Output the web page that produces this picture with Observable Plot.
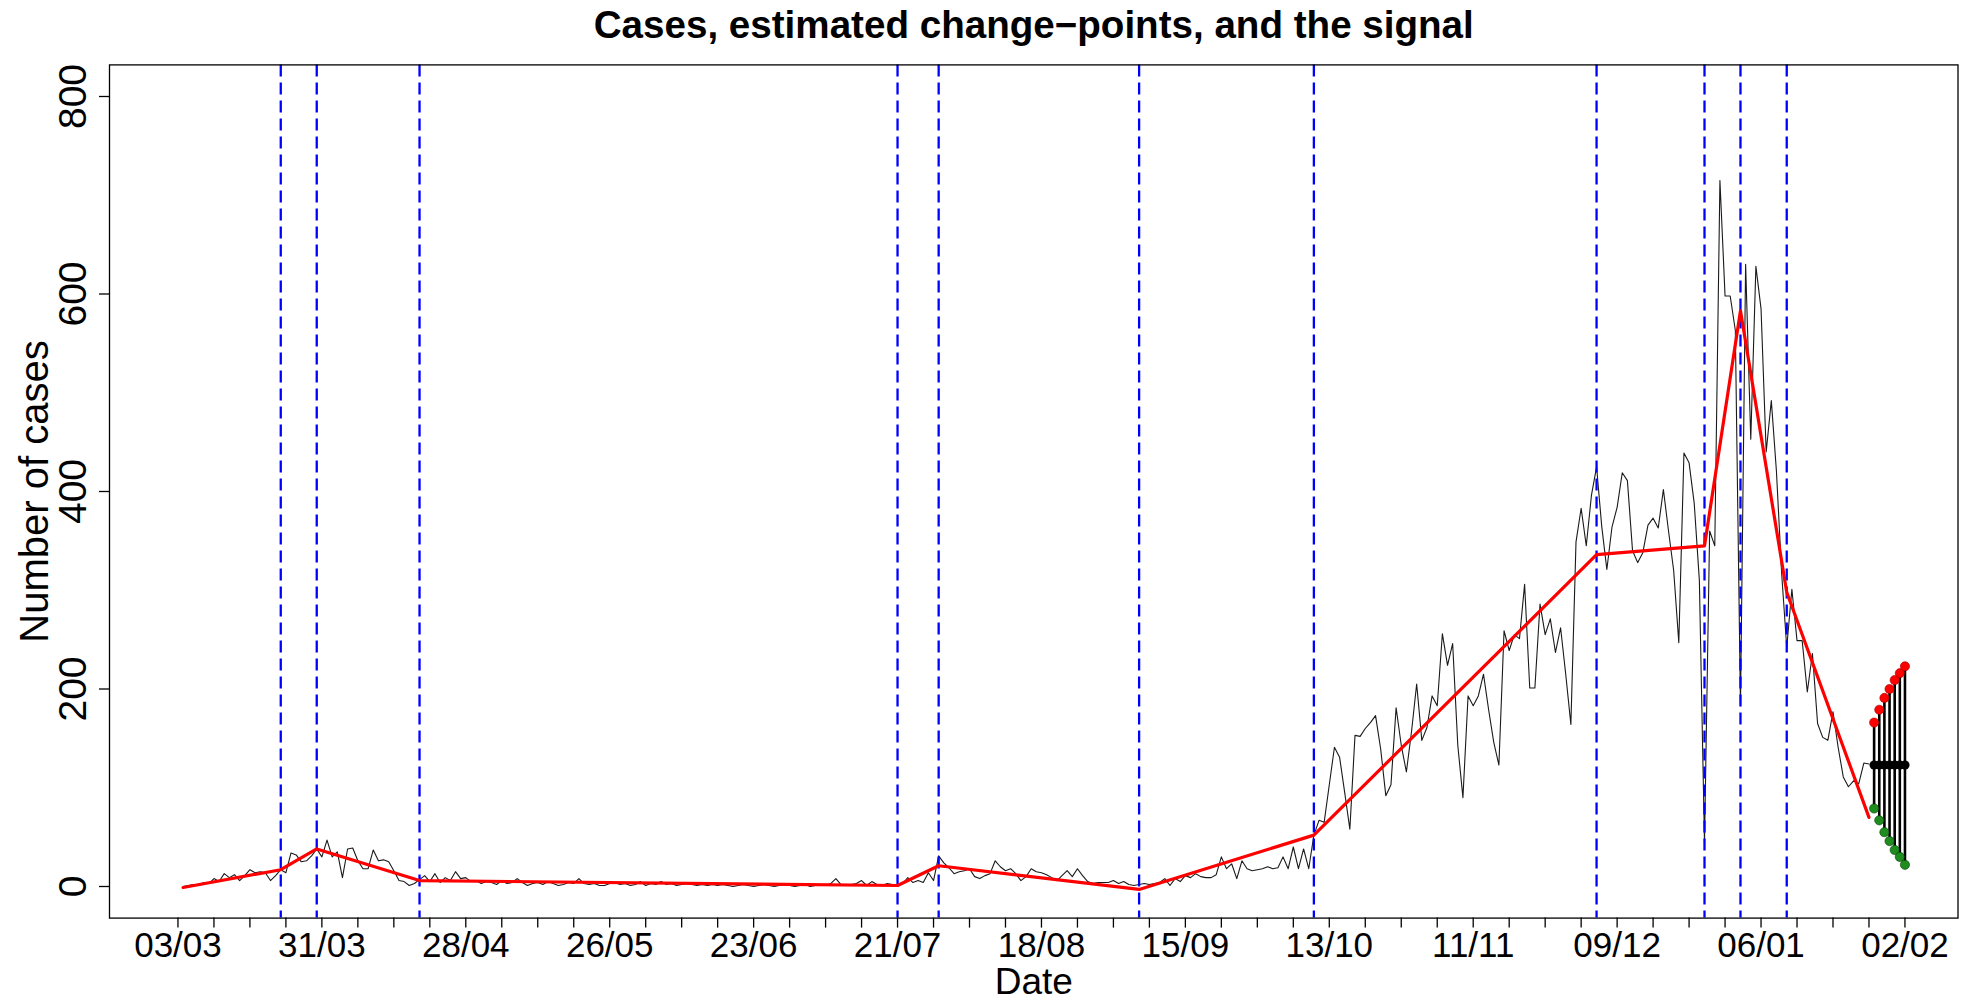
<!DOCTYPE html>
<html>
<head>
<meta charset="utf-8">
<script src="https://cdn.jsdelivr.net/npm/d3@7"></script>
<script src="https://cdn.jsdelivr.net/npm/@observablehq/plot@0.6"></script>
<style>
  html, body { margin: 0; padding: 0; background: #fff; }
  #chart svg { display: block; }
</style>
</head>
<body>
<div id="chart"></div>
<script>
// ---- data (x = days since 03/03) ----
const title = "Cases, estimated change\u2212points, and the signal";
const xLabel = "Date";
const yLabel = "Number of cases";

const firstDay = 1;
const cases = [
  0, 1, 2, 1, 4, 3, 8, 5, 13, 9,
  12, 6, 11, 17, 14, 15, 14, 6, 11, 17,
  14, 34, 32, 25, 26, 31, 38, 30, 47, 30,
  35, 9, 38, 39, 26, 18, 18, 37, 26, 27,
  25, 16, 6, 5, 1, 3, 7, 11, 5, 13,
  4, 9, 6, 15, 8, 9, 5, 6, 3, 5,
  4, 2, 6, 3, 4, 8, 4, 1, 3, 4,
  2, 5, 3, 1, 2, 4, 3, 8, 3, 2,
  3, 1, 1, 3, 4, 2, 3, 1, 2, 5,
  1, 3, 2, 5, 2, 3, 1, 2, 3, 2,
  1, 2, 1, 2, 1, 2, 1, 0, 1, 2,
  1, 0, 1, 2, 1, 0, 1, 2, 1, 0,
  1, 2, 0, 1, 2, 1, 3, 8, 2, 1,
  2, 3, 6, 1, 5, 2, 1, 3, 2, 1,
  3, 9, 4, 6, 4, 14, 6, 31, 24, 19,
  13, 15, 16, 18, 10, 8, 11, 13, 26, 20,
  16, 18, 13, 6, 10, 18, 15, 14, 12, 9,
  6, 11, 16, 10, 18, 11, 5, 3, 4, 4,
  4, 6, 3, 5, 2, 1, 2, 3, 2, 3,
  4, 8, 1, 8, 5, 11, 9, 13, 10, 9,
  9, 12, 30, 18, 23, 8, 26, 18, 16, 17,
  18, 20, 18, 19, 30, 18, 40, 18, 38, 18,
  52, 67, 65, 103, 141, 131, 95, 58, 153, 152,
  160, 166, 173, 139, 92, 103, 181, 143, 116, 157,
  205, 148, 161, 193, 183, 256, 224, 246, 143, 90,
  193, 183, 193, 215, 179, 146, 123, 259, 239, 255,
  251, 306, 201, 201, 286, 255, 271, 237, 262, 215,
  164, 349, 383, 345, 396, 425, 365, 321, 364, 384,
  419, 411, 340, 328, 338, 366, 373, 363, 402, 360,
  320, 247, 439, 429, 388, 310, 44, 360, 345, 715,
  598, 598, 563, 183, 630, 453, 628, 585, 440, 492,
  420, 318, 242, 301, 249, 249, 197, 236, 165, 151,
  148, 177, 141, 111, 101, 107, 104, 125, 124
];

const changePoints = [20, 27, 47, 140, 148, 187, 221, 276, 297, 304, 313];

const signalDays   = [1, 20, 27, 47, 140, 148, 187, 221, 276, 297, 304, 313, 329];
const signalValues = [-1, 17, 38, 6, 1, 21, -3, 52, 336, 345, 583, 298, 70];

const fanDays   = [330, 331, 332, 333, 334, 335, 336];
const fanCenter = [123, 123, 123, 123, 123, 123, 123];
const fanUpper  = [166, 179, 191, 200, 209, 216, 223];
const fanLower  = [79, 67, 55, 46, 37, 30, 22];

const xTickLabels = ["03/03","31/03","28/04","26/05","23/06","21/07","18/08","15/09","13/10","11/11","09/12","06/01","02/02"];
const xLabelDays  = [0, 28, 56, 84, 112, 140, 168, 196, 224, 252, 280, 308, 336];
const xMinorTicks = d3.range(0, 337, 7);
const yTicks = [0, 200, 400, 600, 800];

// ---- tables ----
const caseRows = cases.map((v, i) => ({day: firstDay + i, cases: v}));
const signalRows = signalDays.map((d, i) => ({day: d, value: signalValues[i]}));
const fanRows = fanDays.map((d, i) => ({day: d, center: fanCenter[i], upper: fanUpper[i], lower: fanLower[i]}));
const labelRows = xLabelDays.map((d, i) => ({day: d, label: xTickLabels[i]}));

const chart = Plot.plot({
  width: 1972,
  height: 1002,
  marginTop: 64.4,
  marginRight: 14.5,
  marginBottom: 84.4,
  marginLeft: 109,
  x: {domain: [-13.32, 346.32]},
  y: {domain: [-32, 832]},
  style: {fontFamily: "'Liberation Sans', Arial, Helvetica, sans-serif", background: "#fff", color: "#000"},
  marks: [
    Plot.line(caseRows, {x: "day", y: "cases", stroke: "#1a1a1a", strokeWidth: 1.1}),
    Plot.ruleX(changePoints, {x: d => d, stroke: "#0000ff", strokeWidth: 2.3, strokeDasharray: "12,6"}),
    Plot.line(signalRows, {x: "day", y: "value", stroke: "#ff0000", strokeWidth: 3.2}),
    Plot.ruleX(fanRows, {x: "day", y1: "lower", y2: "upper", stroke: "#000", strokeWidth: 2.6}),
    Plot.dot(fanRows, {x: "day", y: "center", r: 4.6, fill: "#000"}),
    Plot.dot(fanRows, {x: "day", y: "upper", r: 4.6, fill: "#ff0000", stroke: "#a00000", strokeWidth: 0.6}),
    Plot.dot(fanRows, {x: "day", y: "lower", r: 4.6, fill: "#1e8c1e", stroke: "#004000", strokeWidth: 0.6}),
    Plot.frame({stroke: "#000", strokeWidth: 1.3}),
    Plot.axisX({ticks: xMinorTicks, tickSize: 10, tickFormat: () => "", label: null, strokeWidth: 1.3}),
    Plot.axisY({ticks: yTicks, tickSize: 10, tickFormat: () => "", label: null, strokeWidth: 1.3}),
    Plot.text(labelRows, {x: "day", text: "label", frameAnchor: "bottom", dy: 14, lineAnchor: "top", textAnchor: "middle", fontSize: 35}),
    Plot.text(yTicks, {y: d => d, text: d => String(d), frameAnchor: "left", dx: -24, rotate: -90, textAnchor: "middle", lineAnchor: "bottom", fontSize: 39}),
    Plot.text([xLabel], {frameAnchor: "bottom", dy: 75.5, lineAnchor: "bottom", textAnchor: "middle", fontSize: 37}),
    Plot.text([yLabel], {frameAnchor: "left", dx: -62, rotate: -90, lineAnchor: "bottom", textAnchor: "middle", fontSize: 40}),
    Plot.text([title], {frameAnchor: "top", dy: -27.4, lineAnchor: "bottom", textAnchor: "middle", fontSize: 38.6, fontWeight: "bold"})
  ]
});
document.getElementById("chart").appendChild(chart);
</script>
</body>
</html>
